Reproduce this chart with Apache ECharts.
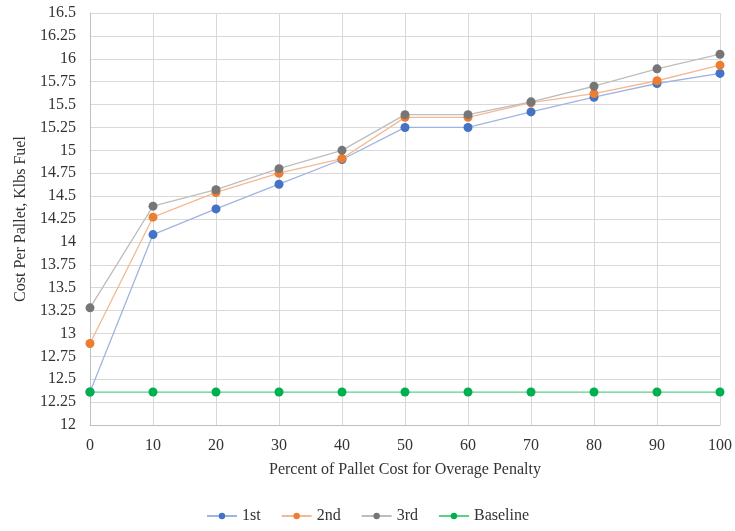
<!DOCTYPE html>
<html><head><meta charset="utf-8">
<script src="https://cdn.jsdelivr.net/npm/echarts@6/dist/echarts.min.js"></script>
<style>html,body{margin:0;padding:0;background:#fff}#c{width:735px;height:531px}</style>
</head><body><div id="c"></div>
<script>
const xValues = [0, 10, 20, 30, 40, 50, 60, 70, 80, 90, 100];
const first = [12.36, 14.08, 14.36, 14.63, 14.90, 15.25, 15.25, 15.42, 15.58, 15.73, 15.84];
const second = [12.89, 14.27, 14.54, 14.75, 14.91, 15.36, 15.36, 15.52, 15.62, 15.76, 15.93];
const third = [13.28, 14.39, 14.57, 14.80, 15.00, 15.39, 15.39, 15.53, 15.70, 15.89, 16.05];
const baseline = [12.36, 12.36, 12.36, 12.36, 12.36, 12.36, 12.36, 12.36, 12.36, 12.36, 12.36];
const seriesNames = ['1st', '2nd', '3rd', 'Baseline'];

const font = '"Liberation Serif", "Times New Roman", serif';
const txt = '#333333';
const pair = arr => xValues.map((x, i) => [x, arr[i]]);
function mk(name, data, col, lineCol) {
  return {
    name, type: 'line', data: pair(data),
    symbol: 'circle', symbolSize: 9,
    itemStyle: { color: col },
    lineStyle: { color: lineCol, width: 1.3 },
    emphasis: { disabled: true },
    animation: false
  };
}
const chart = echarts.init(document.getElementById('c'));
chart.setOption({
  backgroundColor: '#fff',
  animation: false,
  grid: { left: 90, right: 15, top: 13, bottom: 106, containLabel: false },
  legend: {
    bottom: 2, left: 'center',
    data: seriesNames,
    itemWidth: 30, itemHeight: 8, itemGap: 20,
    textStyle: { fontFamily: font, fontSize: 16, color: txt }
  },
  xAxis: {
    type: 'value', min: 0, max: 100, interval: 10,
    name: 'Percent of Pallet Cost for Overage Penalty',
    nameLocation: 'middle', nameGap: 37,
    nameTextStyle: { fontFamily: font, fontSize: 16, color: txt },
    axisLine: { show: true, lineStyle: { color: '#bfbfbf' } },
    axisTick: { show: false },
    axisLabel: { fontFamily: font, fontSize: 16, color: txt, margin: 13 },
    splitLine: { show: true, lineStyle: { color: '#d9d9d9' } }
  },
  yAxis: {
    type: 'value', min: 12, max: 16.5, interval: 0.25,
    name: 'Cost Per Pallet, Klbs Fuel',
    nameLocation: 'middle', nameGap: 60,
    nameTextStyle: { fontFamily: font, fontSize: 16, color: txt },
    axisLine: { show: true, lineStyle: { color: '#bfbfbf' } },
    axisTick: { show: false },
    axisLabel: { fontFamily: font, fontSize: 16, color: txt, margin: 14 },
    splitLine: { show: true, lineStyle: { color: '#d9d9d9' } }
  },
  series: [
    mk('1st', first, '#4472C4', '#9fb5e0'),
    mk('2nd', second, '#ED7D31', '#f5b893'),
    mk('3rd', third, '#767676', '#bdbdbd'),
    mk('Baseline', baseline, '#00B050', '#5ccf8a')
  ]
});
</script></body></html>
